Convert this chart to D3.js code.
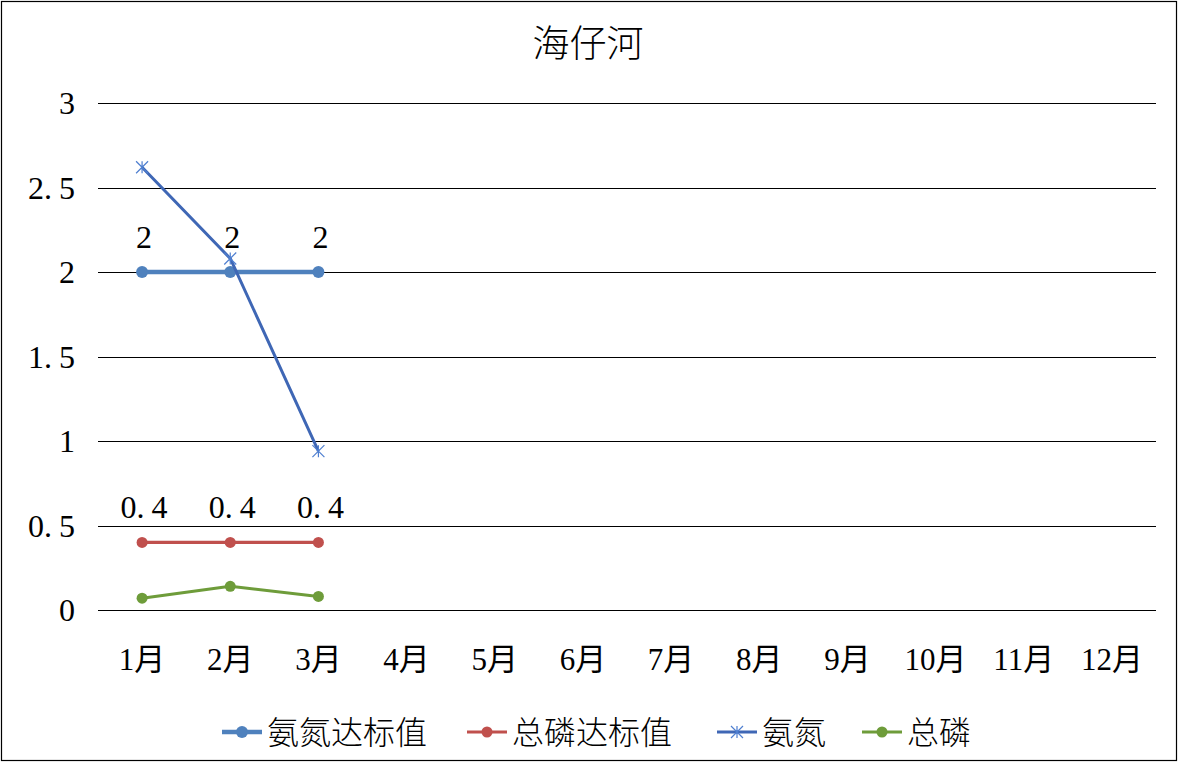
<!DOCTYPE html>
<html>
<head>
<meta charset="utf-8">
<script src="https://cdn.jsdelivr.net/npm/d3@7"></script>
<style>
  html, body { margin: 0; padding: 0; background: #fff; }
  svg text { font-family: "Liberation Serif", "Noto Sans CJK SC", serif; fill: #000; }
</style>
</head>
<body>
<div id="chart"></div>
<script>
// data
const months = ["1月", "2月", "3月", "4月", "5月", "6月", "7月", "8月", "9月", "10月", "11月", "12月"];
const yTicks = [0, 0.5, 1, 1.5, 2, 2.5, 3];
const ammoniaStd = [2, 2, 2];          // 氨氮达标值
const phosphorusStd = [0.4, 0.4, 0.4]; // 总磷达标值
const ammonia = [2.62, 2.08, 0.94];    // 氨氮
const phosphorus = [0.07, 0.14, 0.08]; // 总磷

const series = [
  { name: "氨氮达标值", values: ammoniaStd, color: "#4F81BD", width: 4.5, marker: "dot", r: 6, labels: true },
  { name: "总磷达标值", values: phosphorusStd, color: "#C0504D", width: 3.2, marker: "dot", r: 5.5, labels: true },
  { name: "氨氮", values: ammonia, color: "#3F67B5", width: 3, marker: "star", r: 6, labels: false },
  { name: "总磷", values: phosphorus, color: "#6E9C3A", width: 3, marker: "dot", r: 5.5, labels: false }
];

const W = 1182, H = 763;
const margin = { left: 98, right: 26, top: 103, bottom: 153 };

const svg = d3.select("#chart").append("svg")
  .attr("width", W)
  .attr("height", H);

// outer frame
svg.append("rect")
  .attr("x", 1.5).attr("y", 1.5)
  .attr("width", 1175).attr("height", 759)
  .attr("fill", "#fff")
  .attr("stroke", "#000")
  .attr("stroke-width", 1.2);

const x = d3.scaleBand()
  .domain(months)
  .range([margin.left, W - margin.right]);

const y = d3.scaleLinear()
  .domain([0, 3])
  .range([H - margin.bottom, margin.top]);

// numbers like "2. 5" - wide gap after the decimal point
function numText(sel) {
  sel.each(function (d) {
    const parts = String(d).split(".");
    const t = d3.select(this);
    t.append("tspan").text(parts.length > 1 ? parts[0] + "." : parts[0]);
    if (parts.length > 1) t.append("tspan").attr("dx", 7).text(parts[1]);
  });
}

// title
svg.append("text")
  .attr("x", 588).attr("y", 57)
  .attr("text-anchor", "middle")
  .style("font-family", "'Noto Sans CJK SC', sans-serif")
  .style("font-weight", 300)
  .style("font-size", "37px")
  .text("海仔河");

// gridlines
svg.append("g")
  .selectAll("line")
  .data(yTicks)
  .join("line")
  .attr("x1", margin.left)
  .attr("x2", W - margin.right)
  .attr("y1", d => Math.round(y(d)) + 0.5)
  .attr("y2", d => Math.round(y(d)) + 0.5)
  .attr("stroke", "#000")
  .attr("stroke-width", 1);

// y axis labels
svg.append("g")
  .selectAll("text")
  .data(yTicks)
  .join("text")
  .attr("x", 75)
  .attr("y", d => y(d) + 11)
  .attr("text-anchor", "end")
  .style("font-size", "32px")
  .call(numText);

// x axis labels
svg.append("g")
  .selectAll("text")
  .data(months)
  .join("text")
  .attr("x", d => x(d) + x.bandwidth() / 2)
  .attr("y", 670)
  .attr("text-anchor", "middle")
  .style("font-size", "31px")
  .text(d => d);

const cx = i => x(months[i]) + x.bandwidth() / 2;

const line = d3.line()
  .x((d, i) => cx(i))
  .y(d => y(d));

series.forEach(s => {
  const g = svg.append("g");
  g.append("path")
    .datum(s.values)
    .attr("d", line)
    .attr("fill", "none")
    .attr("stroke", s.color)
    .attr("stroke-width", s.width)
    .attr("stroke-linejoin", "round");

  if (s.marker === "dot") {
    g.selectAll("circle")
      .data(s.values)
      .join("circle")
      .attr("cx", (d, i) => cx(i))
      .attr("cy", d => y(d))
      .attr("r", s.r)
      .attr("fill", s.color);
  } else {
    g.selectAll("path.star")
      .data(s.values)
      .join("path")
      .attr("class", "star")
      .attr("transform", (d, i) => `translate(${cx(i)},${y(d)})`)
      .attr("d", `M${-s.r},${-s.r}L${s.r},${s.r}M${-s.r},${s.r}L${s.r},${-s.r}M0,${-s.r}L0,${s.r}`)
      .attr("stroke", "#4F7FD0")
      .attr("stroke-width", 1.2)
      .attr("fill", "none");
  }

  if (s.labels) {
    g.selectAll("text")
      .data(s.values)
      .join("text")
      .attr("x", (d, i) => cx(i) + 2)
      .attr("y", d => y(d) - 24)
      .attr("text-anchor", "middle")
      .style("font-size", "32px")
      .call(numText);
  }
});

// legend
const legendX = [222, 467, 717, 862];
const legend = svg.append("g");
series.forEach((s, i) => {
  const lg = legend.append("g").attr("transform", `translate(${legendX[i]},732)`);
  lg.append("line")
    .attr("x1", 0).attr("x2", 40)
    .attr("stroke", s.color)
    .attr("stroke-width", s.width);
  if (s.marker === "dot") {
    lg.append("circle").attr("cx", 20).attr("r", s.r).attr("fill", s.color);
  } else {
    lg.append("path")
      .attr("transform", "translate(20,0)")
      .attr("d", `M${-s.r},${-s.r}L${s.r},${s.r}M${-s.r},${s.r}L${s.r},${-s.r}M0,${-s.r}L0,${s.r}`)
      .attr("stroke", "#4F7FD0")
      .attr("stroke-width", 1.2);
  }
  lg.append("text")
    .attr("x", 45)
    .attr("y", 12)
    .style("font-family", "'Noto Sans CJK SC', sans-serif")
    .style("font-weight", 300)
    .style("font-size", "32px")
    .text(s.name);
});
</script>
</body>
</html>
